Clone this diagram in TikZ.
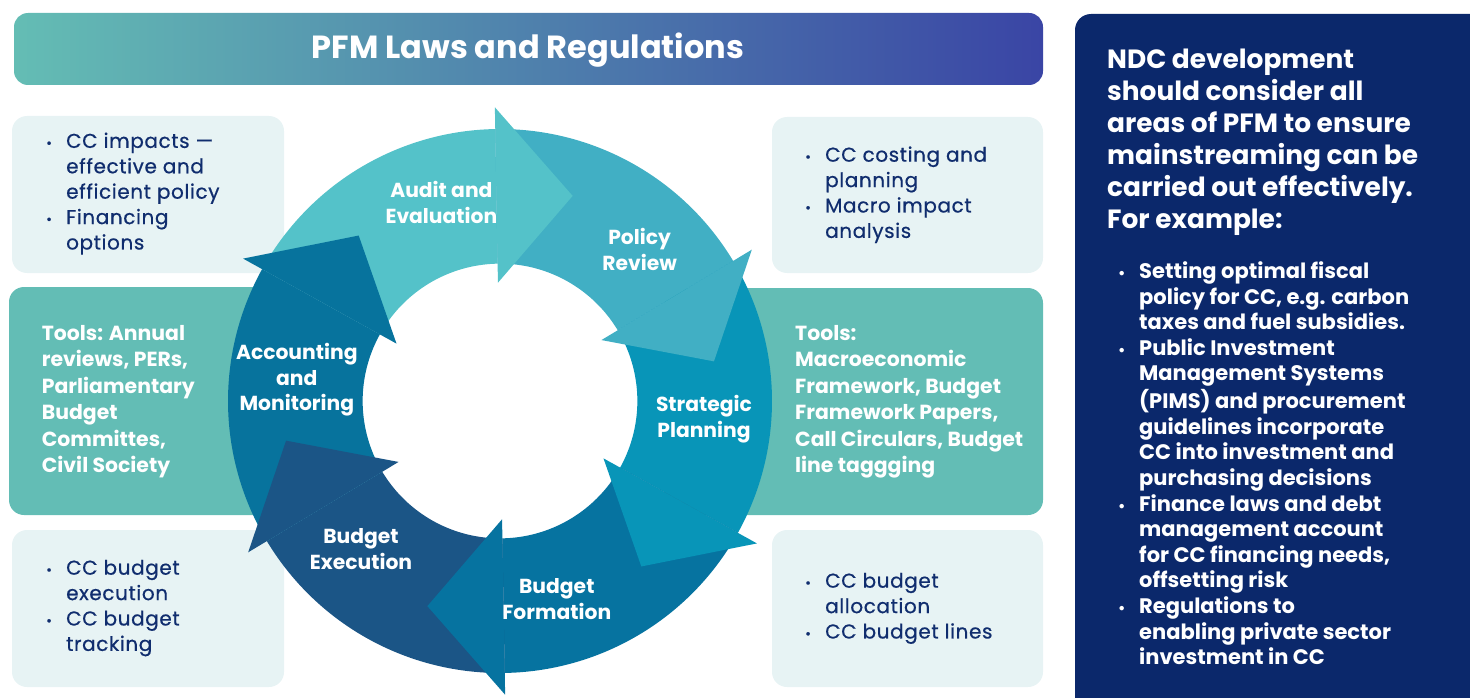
\documentclass[tikz,border=0pt]{standalone}
\usepackage{fontspec}
\usepackage{graphicx}
\setmainfont{Poppins}
\newfontfamily\medfont{Poppins}[FakeBold=0.6, LetterSpace=3]
\definecolor{navy}{HTML}{102D6E}
\definecolor{lightbg}{HTML}{E7F3F4}
\definecolor{tealbg}{HTML}{63BDB5}
\definecolor{panelbg}{HTML}{0B286B}
\definecolor{titleL}{HTML}{64BDB4}
\definecolor{titleR}{HTML}{3A45A5}
\definecolor{cAudit}{HTML}{54C2C9}
\definecolor{cPolicy}{HTML}{41AFC4}
\definecolor{cStrat}{HTML}{0895B8}
\definecolor{cForm}{HTML}{0673A0}
\definecolor{cExec}{HTML}{1B5586}
\definecolor{cAcc}{HTML}{07739D}
\newlength\indw
\newcommand\bl{\makebox[\indw][l]{\hspace{2pt}\scalebox{0.7}{\textbullet}}\strut}
\newcommand\ct{\hspace*{\indw}\strut}
\newcommand\ringseg[3]{\fill[#1] plot[domain=#2:#3,samples=60] (\x:1) -- plot[domain=#3:#2,samples=60] (\x:0.505) -- cycle;}
\newcommand\ringhead[2]{\fill[#1] (#2:1.08) -- ({#2-20.5}:0.80) -- (#2:0.435) -- cycle;}
\begin{document}
\begin{tikzpicture}[x=1pt,y=-1pt,
  lightbox/.style={fill=lightbg, rounded corners=15pt},
  tealbox/.style={fill=tealbg, rounded corners=15pt},
  navytxt/.style={text=navy, font=\medfont\fontsize{20}{25.4}\selectfont, align=left, inner sep=0pt, anchor=west},
  tooltxt/.style={text=white, font=\bfseries\fontsize{20.4}{26.5}\selectfont, align=left, inner sep=0pt, anchor=west},
  ringlbl/.style={text=white, font=\bfseries\fontsize{20.3}{25.8}\selectfont, align=center, inner sep=0pt},
  headtxt/.style={text=white, font=\bfseries\fontsize{26.4}{32}\selectfont, align=left, inner sep=0pt, anchor=west},
  paneltxt/.style={text=white, font=\bfseries\fontsize{21}{25.6}\selectfont, align=left, inner sep=0pt, anchor=west},
  titletxt/.style={text=white, font=\bfseries\fontsize{32}{36}\selectfont, inner sep=0pt}
]
\useasboundingbox (0,0) rectangle (1470,698);
\clip (0,0) rectangle (1470,698);
% title bar
\shade[left color=titleL, right color=titleR, rounded corners=14pt] (14,13) rectangle (1043,85);
\node[titletxt] (title) at (528,50) {PFM Laws and Regulations};
% side boxes
\fill[lightbox] (12,116) rectangle (284,273);
\fill[tealbox] (9,287) rectangle (300,515);
\fill[lightbox] (12,530) rectangle (284,687);
\fill[lightbox] (772,117) rectangle (1043,273);
\fill[tealbox] (664,288) rectangle (1043,515);
\fill[lightbox] (772,530) rectangle (1043,687);
% right panel
\fill[panelbg, rounded corners=16pt] (1075,14) rectangle (1500,730);
% ring
\begin{scope}[shift={(500,401)}, x=272pt, y=272pt]
  \ringseg{cAudit}{151}{91}
  \ringseg{cPolicy}{91}{31}
  \ringseg{cStrat}{31}{-29}
  \ringseg{cForm}{-29}{-89}
  \ringseg{cExec}{-89}{-149}
  \ringseg{cAcc}{-149}{-209}
  \ringhead{cAudit}{91}
  \ringhead{cPolicy}{31}
  \ringhead{cStrat}{-29}
  \ringhead{cForm}{-89}
  \ringhead{cExec}{-149}
  \ringhead{cAcc}{151}
\end{scope}
\node[ringlbl] (audit) at (441.4,205) {\strut Audit and\\\strut Evaluation};
\node[ringlbl] (policy) at (639.6,252) {\strut Policy\\\strut Review};
\node[ringlbl] (strat) at (704,419.5) {\strut Strategic\\\strut Planning};
\node[ringlbl] (form) at (556.8,601) {\strut Budget\\\strut Formation};
\node[ringlbl] (exec) at (361,551.5) {\strut Budget\\\strut Execution};
\node[ringlbl] (acc) at (296.8,380) {\strut Accounting\\\strut and\\\strut Monitoring};
% box texts
\setlength\indw{22pt}
\node[navytxt] (lt) at (44,193.6) {\bl CC impacts —\\\ct effective and\\\ct efficient policy\\\bl Financing\\\ct options};
\node[tooltxt] (lm) at (41.7,401) {\strut Tools: Annual\\\strut reviews, PERs,\\\strut Parliamentary\\\strut Budget\\\strut Committes,\\\strut Civil Society};
\node[navytxt] (lb) at (44,607.7) {\bl CC budget\\\ct execution\\\bl CC budget\\\ct tracking};
\node[navytxt] (rt) at (803,194.7) {\bl CC costing and\\\ct planning\\\bl Macro impact\\\ct analysis};
\node[tooltxt] (rm) at (795,401.4) {\strut Tools:\\\strut Macroeconomic\\\strut Framework, Budget\\\strut Framework Papers,\\\strut Call Circulars, Budget\\\strut line taggging};
\node[navytxt] (rb) at (803,608) {\bl CC budget\\\ct allocation\\\bl CC budget lines};
% panel texts
\node[headtxt] (ph) at (1107,142.5) {\strut NDC development\\\strut should consider all\\\strut areas of PFM to ensure\\\strut mainstreaming can be\\\strut carried out effectively.\\\strut For example:};
\setlength\indw{23pt}
\node[paneltxt] (pb) at (1116,466.5) {\bl Setting optimal fiscal\\\ct policy for CC, e.g. carbon\\\ct taxes and fuel subsidies.\\\bl Public Investment\\\ct Management Systems\\\ct (PIMS) and procurement\\\ct guidelines incorporate\\\ct CC into investment and\\\ct purchasing decisions\\\bl Finance laws and debt\\\ct management account\\\ct for CC financing needs,\\\ct offsetting risk\\\bl Regulations to\\\ct enabling private sector\\\ct investment in CC};
\end{tikzpicture}
\end{document}
